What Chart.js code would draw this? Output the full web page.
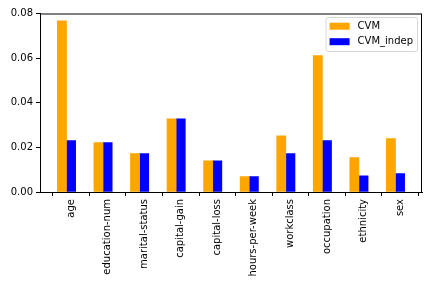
<!DOCTYPE html>
<html>
<head>
<meta charset="utf-8">
<script src="https://cdn.jsdelivr.net/npm/chart.js@4.4.0/dist/chart.umd.min.js"></script>
<style>
  html, body { margin: 0; padding: 0; background: #fff; }
  #wrap { width: 432px; height: 288px; }
</style>
</head>
<body>
<div id="wrap"><canvas id="chartCanvas" width="432" height="288"></canvas></div>
<script>
const categories = ['age', 'education-num', 'marital-status', 'capital-gain', 'capital-loss',
    'hours-per-week', 'workclass', 'occupation', 'ethnicity', 'sex'];
const cvm = [0.0767, 0.0221, 0.0172, 0.0328, 0.0140, 0.0069, 0.0252, 0.0611, 0.0154, 0.0239];
const cvmIndep = [0.0230, 0.0221, 0.0172, 0.0328, 0.0140, 0.0069, 0.0172, 0.0230, 0.0073, 0.0082];
const yTicks = [0, 0.02, 0.04, 0.06, 0.08];

const FONT = 'DejaVu Sans';
const BAR_W = 0.25;

// orange bar sits one bar-width left of the tick, blue bar centred on the tick
function toPoints(values, shift) {
    return values.map((v, i) => ({ x: i + shift, y: v }));
}

// spines on top/right + matplotlib-ish legend box
const framePlugin = {
    id: 'frame',
    afterDraw(chart) {
        const { ctx, chartArea: a } = chart;
        ctx.save();
        ctx.strokeStyle = '#000';
        ctx.lineWidth = 1;
        ctx.strokeRect(a.left + 0.5, a.top + 0.5, a.right - a.left - 1, a.bottom - a.top);

        ctx.font = '10px "' + FONT + '"';
        const sets = chart.data.datasets;
        const textW = Math.max(...sets.map(d => ctx.measureText(d.label).width));
        const w = 4 + 20 + 8 + textW + 4;
        const h = 34;
        const x0 = a.right - 5 - w;
        const y0 = a.top + 3.5;
        ctx.beginPath();
        ctx.roundRect(x0 + 0.5, y0 + 0.5, w, h, 2);
        ctx.fillStyle = 'rgba(255,255,255,0.8)';
        ctx.fill();
        ctx.strokeStyle = '#d6d6d6';
        ctx.stroke();
        sets.forEach((d, i) => {
            const cy = y0 + 9 + i * 15.5;
            ctx.fillStyle = d.backgroundColor;
            ctx.fillRect(x0 + 4, cy - 3.3, 20, 7);
            ctx.fillStyle = '#000';
            ctx.textBaseline = 'middle';
            ctx.textAlign = 'left';
            ctx.fillText(d.label, x0 + 32, cy);
        });
        ctx.restore();
    }
};

const ctx = document.getElementById('chartCanvas').getContext('2d');
const chart = new Chart(ctx, {
    type: 'bar',
    data: {
        datasets: [
            { label: 'CVM', data: toPoints(cvm, -BAR_W), backgroundColor: '#FFA500' },
            { label: 'CVM_indep', data: toPoints(cvmIndep, 0), backgroundColor: '#0000FF' }
        ]
    },
    options: {
        responsive: false,
        animation: false,
        grouped: false,
        barPercentage: 1,
        categoryPercentage: 1,
        layout: { padding: { top: 13.5, right: 10, left: 0, bottom: 0 } },
        plugins: {
            legend: { display: false },
            tooltip: { enabled: false }
        },
        scales: {
            x: {
                type: 'linear',
                min: -0.85,
                max: 9.6,
                offset: false,
                afterBuildTicks(scale) {
                    scale.ticks = categories.map((_, i) => ({ value: i }));
                },
                afterFit(scale) { scale.height = 96; },
                ticks: {
                    autoSkip: false,
                    maxRotation: 90,
                    minRotation: 90,
                    padding: 3,
                    color: '#000',
                    font: { family: FONT, size: 10 },
                    callback: (v) => categories[v]
                },
                grid: { display: true, drawOnChartArea: false, drawTicks: true, tickLength: 4, color: '#000' },
                border: { display: true, color: '#000', width: 1 }
            },
            y: {
                min: 0,
                max: 0.08,
                afterBuildTicks(scale) {
                    scale.ticks = yTicks.map(v => ({ value: v }));
                },
                afterFit(scale) { scale.width = 40; },
                ticks: {
                    padding: 3,
                    color: '#000',
                    font: { family: FONT, size: 10 },
                    callback: (v) => v.toFixed(2)
                },
                grid: { display: true, drawOnChartArea: false, drawTicks: true, tickLength: 4, color: '#000' },
                border: { display: true, color: '#000', width: 1 }
            }
        }
    },
    plugins: [framePlugin]
});
</script>
</body>
</html>
